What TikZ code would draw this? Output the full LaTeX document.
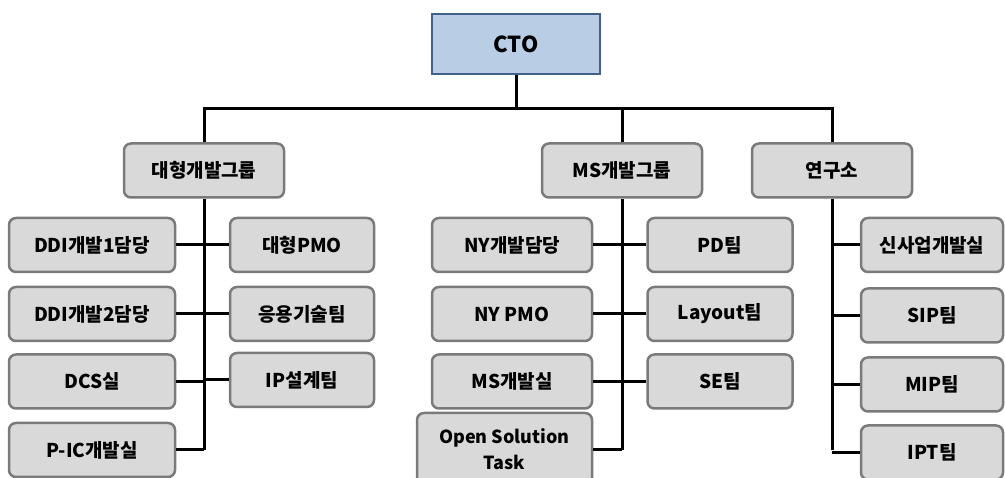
\documentclass[tikz,border=0pt]{standalone}
\usepackage{fontspec}
\setmainfont{Noto Sans CJK KR}

\definecolor{boxgray}{HTML}{D9D9D9}
\definecolor{edgegray}{HTML}{7A7A7A}
\definecolor{ctoblue}{HTML}{B9CDE5}
\definecolor{ctoedge}{HTML}{41608A}

\tikzset{
	orgbox/.style={draw=edgegray, fill=boxgray, line width=2.5pt, rounded corners=7pt,
		minimum height=54pt, inner sep=2pt, align=center,
		font=\bfseries\fontsize{19}{22}\selectfont},
	link/.style={line width=3pt}
}

\begin{document}
\begin{tikzpicture}[x=1pt, y=-1pt]

	\useasboundingbox (0,0) rectangle (1005,478);
	
	% CTO
	\node[draw=ctoedge, fill=ctoblue, line width=2.5pt, minimum width=168pt, minimum height=60pt,
		font=\bfseries\fontsize{22}{24}\selectfont] (cto) at (516,44) {CTO};
	
	% Gruppen
	\node[orgbox, minimum width=160pt] (grpA) at (204,170.5) {대형개발그룹};
	\node[orgbox, minimum width=160pt] (grpB) at (622,170.5) {MS개발그룹};
	\node[orgbox, minimum width=160pt] (grpC) at (832,170.5) {연구소};
	
	\draw[link] (cto.south) -- ++(0,33) coordinate (bus);
	\draw[link] (grpA.north) -- (grpA.north |- bus) -- (grpC.north |- bus) -- (grpC.north);
	\draw[link] (grpB.north) -- (grpB.north |- bus);
	
	\coordinate (bottom) at (0,450);
	\draw[link] (grpA.south) -- (grpA.south |- bottom);
	\draw[link] (grpB.south) -- (grpB.south |- bottom);
	\draw[link] (grpC.south) -- (grpC.south |- bottom);
	
	% 대형개발그룹
	\foreach \nm/\txt/\y in {a1/DDI개발1담당/245, a2/DDI개발2담당/314, a3/DCS실/381.5, a4/P-IC개발실/450} {
		\node[orgbox, minimum width=166pt] (\nm) at (92,\y) {\txt};
		\draw[link] (\nm.east) -- (\nm.east -| grpA.south);
	}
	\foreach \nm/\txt/\y in {b1/대형PMO/245, b2/응용기술팀/314, b3/IP설계팀/380} {
		\node[orgbox, minimum width=144pt] (\nm) at (302,\y) {\txt};
		\draw[link] (\nm.west) -- (\nm.west -| grpA.south);
	}
	
	% MS개발그룹
	\foreach \nm/\txt/\y in {c1/NY개발담당/245, c2/NY PMO/314, c3/MS개발실/381.5} {
		\node[orgbox, minimum width=160pt] (\nm) at (512,\y) {\txt};
		\draw[link] (\nm.east) -- (\nm.east -| grpB.south);
	}
	\node[orgbox, minimum width=175pt, minimum height=72pt, inner sep=1pt,
		font=\bfseries\fontsize{18}{26}\selectfont] (c4) at (504.5,449) {Open Solution\\Task};
	\draw[link] (c4.east |- bottom) -- (grpB.south |- bottom);
	\foreach \nm/\txt/\y in {d1/PD팀/245, d2/Layout팀/314, d3/SE팀/381.5} {
		\node[orgbox, minimum width=145pt] (\nm) at (720,\y) {\txt};
		\draw[link] (\nm.west) -- (\nm.west -| grpB.south);
	}
	
	% 연구소
	\foreach \nm/\txt/\y in {e1/신사업개발실/245, e2/SIP팀/315.5, e3/MIP팀/384.5, e4/IPT팀/452.5} {
		\node[orgbox, minimum width=142pt] (\nm) at (932,\y) {\txt};
		\draw[link] (\nm.west) -- (\nm.west -| grpC.south);
	}

\end{tikzpicture}
\end{document}
